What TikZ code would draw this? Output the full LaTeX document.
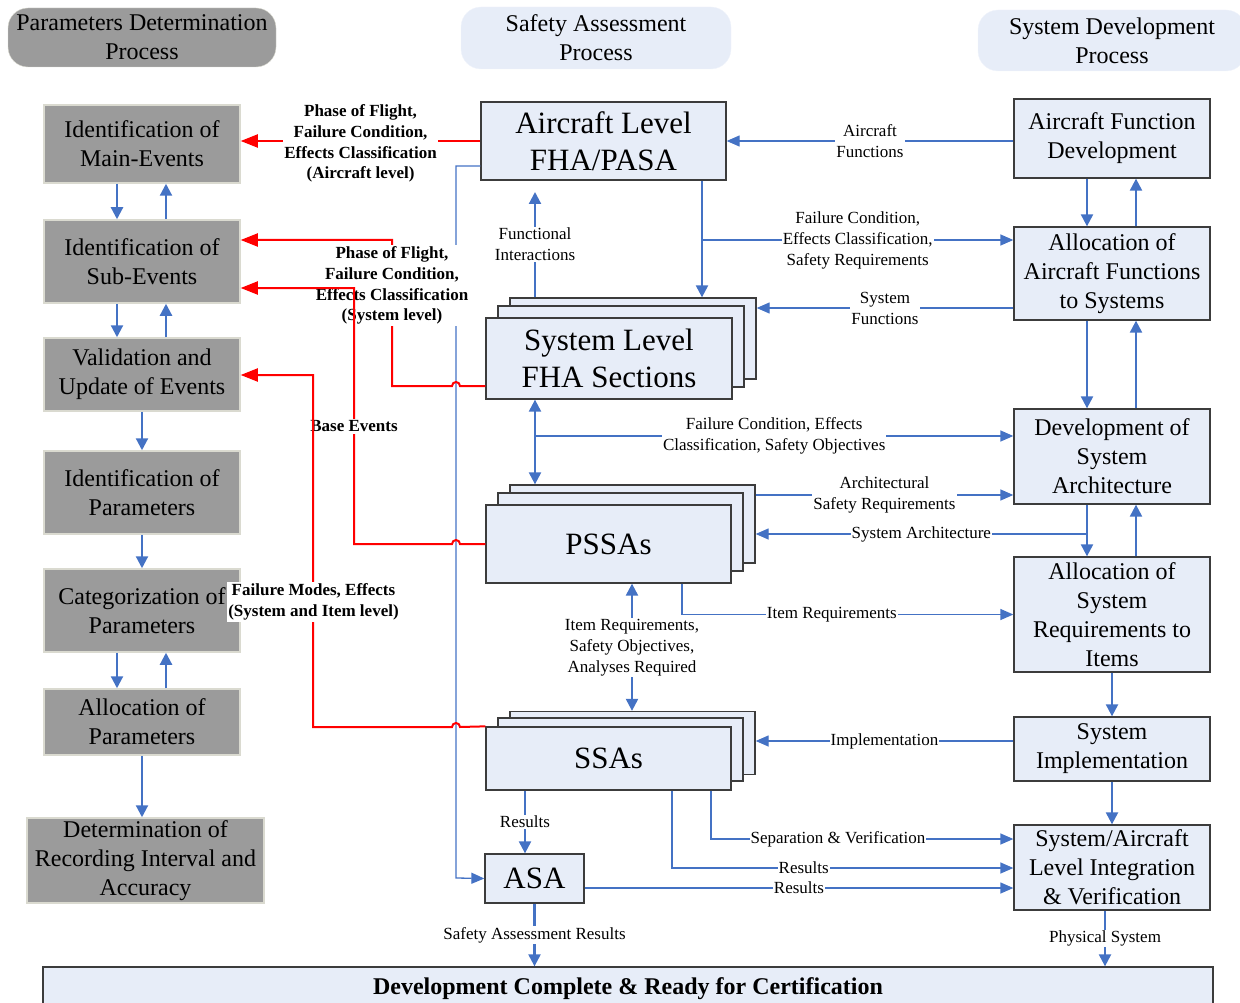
\documentclass[tikz,border=0pt]{standalone}
\usepackage{fontspec}
\setmainfont{Liberation Serif}
\usepackage{tikz}
\usetikzlibrary{arrows.meta}
\definecolor{bline}{RGB}{68,114,196}
\definecolor{lblue}{RGB}{231,237,248}
\definecolor{pgray}{RGB}{155,155,155}
\definecolor{pedge}{RGB}{218,218,208}
\definecolor{boxedge}{RGB}{60,60,60}
\definecolor{fred}{RGB}{255,0,0}
\tikzstyle{head} = [rectangle, rounded corners=20pt, inner sep=0pt, align=center, font=\fontsize{24}{29}\selectfont]
\tikzstyle{param} = [rectangle, draw=pedge, fill=pgray, line width=1.5pt, inner sep=0pt, align=center, font=\fontsize{24}{29}\selectfont]
\tikzstyle{safe} = [rectangle, draw=boxedge, fill=lblue, line width=1.3pt, inner sep=0pt, align=center, font=\fontsize{31}{37}\selectfont]
\tikzstyle{dev} = [rectangle, draw=boxedge, fill=lblue, line width=1.3pt, inner sep=0pt, align=center, minimum width=196pt, font=\fontsize{24}{29}\selectfont]
\tikzstyle{lbl} = [fill=white, inner sep=1pt, align=center, font=\fontsize{17}{21}\selectfont]
\tikzstyle{rlbl} = [fill=white, inner sep=1.5pt, yshift=-2.5pt, align=center, font=\bfseries\fontsize{17}{20.8}\selectfont]
\tikzstyle{bthin} = [draw=bline, line width=1.3pt, >={Triangle[length=13pt,width=11pt]}, ->]
\tikzstyle{bthick} = [draw=bline, line width=2.2pt, >={Triangle[length=12pt,width=12pt]}, ->]
\tikzstyle{rline} = [draw=fred, line width=2pt, >={Triangle[length=17pt,width=13pt]}, ->]

\begin{document}
\begin{tikzpicture}[x=1pt,y=-1pt]
  \useasboundingbox (0,0) rectangle (1240,1003);
  % process headers
  \node[head, fill=pgray, draw=pedge, minimum width=268pt, minimum height=59pt] (H_P) at (142,37.5) {Parameters Determination\\Process};
  \node[head, fill=lblue, draw=lblue!60, minimum width=270pt, minimum height=62pt] (H_S) at (596,38) {Safety Assessment\\Process};
  \node[head, fill=lblue, draw=lblue!60, minimum width=268pt, minimum height=61pt] (H_D) at (1112,40.5) {System Development\\Process};

  % parameters determination
  \node[param, minimum width=196pt, minimum height=78pt] (ME) at (142,144) {Identification of\\Main-Events};
  \node[param, minimum width=196pt, minimum height=83pt] (SE) at (142,261.5) {Identification of\\Sub-Events};
  \node[param, minimum width=196pt, minimum height=73pt] (VU) at (142,374.5) {Validation and\\Update of Events};
  \node[param, minimum width=196pt, minimum height=83pt] (IP) at (142,492.5) {Identification of\\Parameters};
  \node[param, minimum width=196pt, minimum height=83pt] (CP) at (142,610.5) {Categorization of\\Parameters};
  \node[param, minimum width=196pt, minimum height=66pt] (AP) at (142,722) {Allocation of\\Parameters};
  \node[param, minimum width=237pt, minimum height=85pt] (DR) at (145.5,860.5) {Determination of\\Recording Interval and\\Accuracy};

  % safety assessment
  \node[safe, minimum width=245pt, minimum height=78pt] (AL) at (603.5,141) {Aircraft Level\\FHA/PASA};
  \node[safe, minimum width=246pt, minimum height=81pt] (SL_3) at (633,338.5) {};
  \node[safe, minimum width=246pt, minimum height=81pt] (SL_2) at (621,346.5) {};
  \node[safe, minimum width=246pt, minimum height=81pt] (SL) at (609,358.5) {System Level\\FHA Sections};
  \node[safe, minimum width=245pt, minimum height=78pt] (PS_3) at (632.5,524) {};
  \node[safe, minimum width=245pt, minimum height=78pt] (PS_2) at (620.5,532) {};
  \node[safe, minimum width=245pt, minimum height=78pt] (PS) at (608.5,544) {PSSAs};
  \node[safe, minimum width=245pt, minimum height=63pt] (SS_3) at (632.5,743) {};
  \node[safe, minimum width=245pt, minimum height=63pt] (SS_2) at (620.5,749.5) {};
  \node[safe, minimum width=245pt, minimum height=63pt] (SS) at (608.5,758.5) {SSAs};
  \node[safe, minimum width=99pt, minimum height=49pt] (ASA) at (534.5,878.5) {ASA};

  % system development
  \node[dev, minimum height=79pt] (AF) at (1112,138.5) {Aircraft Function\\Development};
  \node[dev, minimum height=93pt] (AA) at (1112,273.5) {Allocation of\\Aircraft Functions\\to Systems};
  \node[dev, minimum height=95pt] (DA) at (1112,456.5) {Development of\\System\\Architecture};
  \node[dev, minimum height=115pt] (AR) at (1112,614.5) {Allocation of\\System\\Requirements to\\Items};
  \node[dev, minimum height=64pt] (SI) at (1112,749) {System\\Implementation};
  \node[dev, minimum height=85pt] (IV) at (1112,867.5) {System/Aircraft\\Level Integration\\\& Verification};

  \node[rectangle, draw=boxedge, fill=lblue, line width=1.3pt, minimum width=1170pt, minimum height=44pt, font=\bfseries\fontsize{24}{29}\selectfont] (DC) at (628,989) {Development Complete \& Ready for Certification};

  % left column
  \draw[bthick] ([xshift=-25pt]ME.south) -- ([xshift=-25pt]SE.north);
  \draw[bthick] ([xshift=24pt]SE.north) -- ([xshift=24pt]ME.south);
  \draw[bthick] ([xshift=-25pt]SE.south) -- ([xshift=-25pt]VU.north);
  \draw[bthick] ([xshift=24pt]VU.north) -- ([xshift=24pt]SE.south);
  \draw[bthick] (VU) -- (IP);
  \draw[bthick] (IP) -- (CP);
  \draw[bthick] ([xshift=-25pt]CP.south) -- ([xshift=-25pt]AP.north);
  \draw[bthick] ([xshift=24pt]AP.north) -- ([xshift=24pt]CP.south);
  \draw[bthick] (AP.south) -- (AP.south |- DR.north);

  % right column
  \draw[bthick] ([xshift=-25pt]AF.south) -- ([xshift=-25pt]AA.north);
  \draw[bthick] ([xshift=24pt]AA.north) -- ([xshift=24pt]AF.south);
  \draw[bthick] ([xshift=-25pt]AA.south) -- ([xshift=-25pt]DA.north);
  \draw[bthick] ([xshift=24pt]DA.north) -- ([xshift=24pt]AA.south);
  \draw[bthick] ([xshift=-25pt]DA.south) -- ([xshift=-25pt]AR.north);
  \draw[bthick] ([xshift=24pt]AR.north) -- ([xshift=24pt]DA.south);
  \draw[bthick] (AR) -- (SI);
  \draw[bthick] (SI) -- (IV);

  % between the columns
  \draw[bthin] (AL.east -| AF.west) -- (AL.east) node[midway, lbl] {Aircraft\\Functions};
  \draw[bthick] (AL.south -| 702,0) -- (SL_3.north -| 702,0);
  \draw[bthin] (702,240) -- (AA.west |- 0,240) node[midway, lbl] {Failure Condition,\\Effects Classification,\\Safety Requirements};
  \draw[bthin] (AA.west |- 0,308) -- (SL_3.east |- 0,308) node[midway, lbl] {System\\Functions};
  \draw[bthick] (SL_3.north -| 535,0) -- (535,192) node[midway, lbl] {Functional\\Interactions};
  \draw[bthick, <->] (SL.south -| 535,0) -- (PS_3.north -| 535,0);
  \draw[bthin] (535,436) -- (DA.west |- 0,436) node[midway, lbl] {Failure Condition, Effects\\Classification, Safety Objectives};
  \draw[bthin] (PS_3.east |- 0,495) -- (DA.west |- 0,495) node[midway, lbl] {Architectural\\Safety Requirements};
  \draw[bthin] (1087,534) -- (PS_3.east |- 0,534) node[midway, lbl] {System Architecture};
  \draw[bthin] (PS.south -| 682,0) |- (AR.west) node[pos=0.726, lbl] {Item Requirements};
  \draw[bthick, <->] (PS.south -| 632,0) -- (SS_3.north -| 632,0) node[midway, lbl] {Item Requirements,\\Safety Objectives,\\Analyses Required};
  \draw[bthin] (SI.west |- 0,741) -- (SS_3.east |- 0,741) node[midway, lbl] {Implementation};
  \draw[bthin] (SS.south -| 711,0) |- (IV.west |- 0,839) node[pos=0.71, lbl] {Separation \& Verification};
  \draw[bthin] (SS.south -| 672,0) |- (IV.west |- 0,868) node[pos=0.693, lbl] {Results};
  \draw[bthin] (ASA.east |- 0,888) -- (IV.west |- 0,888) node[midway, lbl] {Results};
  \draw[bthick] (SS.south -| 525,0) -- (ASA.north -| 525,0) node[midway, lbl] {Results};
  \draw[bthick] (ASA.south) -- (DC.north -| ASA.south) node[midway, lbl] {Safety Assessment Results};
  \draw[bthick] (IV.south -| 1105,0) -- (DC.north -| 1105,0) node[midway, lbl] {Physical System};
  \draw[bthin] (AL.west |- 0,166) -| (456,878) -- (ASA.west);

  % red feedback lines
  \draw[rline] (AL.west) -- (AL.west -| ME.east) node[midway, rlbl] {Phase of Flight,\\Failure Condition,\\Effects Classification\\(Aircraft level)};
  \draw[rline] (SL.west |- 0,386) -- (460,386) arc (0:-180:4) -- (392,386) -- (392,240) -- (SE.east |- 0,240);
  \node[rlbl] (R_S) at (392,283) {Phase of Flight,\\Failure Condition,\\Effects Classification\\(System level)};
  \draw[rline] (PS.west) -- (460,544) arc (0:-180:4) -- (354,544) -- (354,288) -- (SE.east |- 0,288);
  \node[rlbl] (R_B) at (354,424) {Base Events};
  \draw[rline] (SS.north west) -- (460,727) arc (0:-180:4) -- (313,727) -- (313,375) -- (VU.east |- 0,375);
  \node[rlbl] (R_F) at (313.5,599.5) {Failure Modes, Effects\\(System and Item level)};
\end{tikzpicture}
\end{document}
